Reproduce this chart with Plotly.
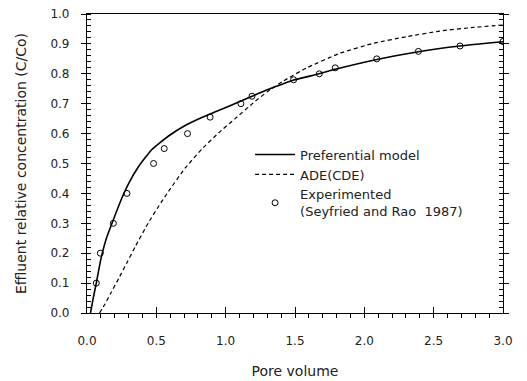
import plotly.graph_objects as go

# Preferential model (solid)
pref_x = [0.025, 0.045, 0.067, 0.10, 0.14, 0.19, 0.25, 0.30, 0.372, 0.468, 0.588, 0.708, 0.828, 0.948,
          1.09, 1.19, 1.30, 1.416, 1.49, 1.674, 1.79, 2.09, 2.39, 2.69, 3.0]
pref_y = [0.0, 0.05, 0.10, 0.18, 0.25, 0.312, 0.383, 0.433, 0.49, 0.547, 0.592, 0.627, 0.654, 0.677,
          0.705, 0.725, 0.747, 0.767, 0.779, 0.80, 0.815, 0.848, 0.874, 0.893, 0.907]

# ADE(CDE) (dashed)
ade_x = [0.09, 0.13, 0.17, 0.228, 0.29, 0.348, 0.444, 0.535, 0.588, 0.708, 0.828, 0.948, 1.068, 1.2, 1.3,
         1.416, 1.585, 1.825, 2.065, 2.305, 2.545, 2.785, 3.0]
ade_y = [0.0, 0.03, 0.065, 0.115, 0.17, 0.222, 0.303, 0.37, 0.407, 0.485, 0.548, 0.602, 0.65, 0.703, 0.74,
         0.776, 0.82, 0.869, 0.902, 0.924, 0.943, 0.955, 0.963]

# Experimented (Seyfried and Rao 1987)
exp_x = [0.067, 0.096, 0.19, 0.288, 0.48, 0.557, 0.725, 0.888, 1.11, 1.19, 1.49, 1.675, 1.79,
         2.09, 2.39, 2.69, 3.0]
exp_y = [0.10, 0.20, 0.30, 0.40, 0.50, 0.55, 0.60, 0.655, 0.70, 0.725, 0.78, 0.80, 0.82,
         0.85, 0.875, 0.893, 0.908]

x_ticks = [0.0, 0.5, 1.0, 1.5, 2.0, 2.5, 3.0]
y_ticks = [0.0, 0.1, 0.2, 0.3, 0.4, 0.5, 0.6, 0.7, 0.8, 0.9, 1.0]

fig = go.Figure()
fig.add_trace(go.Scatter(x=pref_x, y=pref_y, mode="lines", name="Preferential model",
                         line=dict(color="black", width=1.6, shape="spline", smoothing=0.4)))
fig.add_trace(go.Scatter(x=ade_x, y=ade_y, mode="lines", name="ADE(CDE)",
                         line=dict(color="black", width=1.2, dash="4px,3px", shape="spline", smoothing=0.4)))
fig.add_trace(go.Scatter(x=exp_x, y=exp_y, mode="markers",
                         name="Experimented<br>(Seyfried and Rao  1987)",
                         marker=dict(symbol="circle-open", size=6, color="black", line=dict(width=1))))

FAM = "DejaVu Sans, Liberation Sans, Arial, sans-serif"
font = dict(family=FAM, size=12, color="#222")

fig.update_layout(
    width=527, height=381,
    margin=dict(l=79, r=32, t=6, b=76, autoexpand=False),
    plot_bgcolor="white", paper_bgcolor="white",
    font=font,
    showlegend=True,
    legend=dict(x=0.392, y=0.58, xanchor="left", yanchor="top", bgcolor="rgba(0,0,0,0)",
                font=dict(family=FAM, size=13, color="#222"),
                tracegroupgap=0, itemwidth=40),
    xaxis=dict(range=[0, 3.0], tickvals=x_ticks, ticktext=[f"{v:.1f}" for v in x_ticks],
               showgrid=False, zeroline=False, showline=True, linecolor="black", linewidth=1.2,
               mirror=True, ticks="inside", ticklen=6, tickcolor="black", automargin=False,
               minor=dict(ticks="outside", ticklen=4, dtick=0.1, tickcolor="black", showgrid=False),
               ticklabelstandoff=16, ticklabeloverflow="allow",
               title=dict(text="Pore volume", standoff=19, font=dict(size=14))),
    yaxis=dict(range=[0, 1.0], tickvals=y_ticks, ticktext=[f"{v:.1f}" for v in y_ticks],
               showgrid=False, zeroline=False, showline=True, linecolor="black", linewidth=1.2,
               mirror="ticks", ticks="outside", ticklen=5, tickcolor="black", automargin=False,
               minor=dict(ticks="inside", ticklen=4, dtick=0.02, tickcolor="black", showgrid=False),
               ticklabelstandoff=9, ticklabeloverflow="allow",
               title=dict(text="Effluent relative concentration (C/Co)", standoff=20, font=dict(size=14))),
)

fig.write_html("out.html")
